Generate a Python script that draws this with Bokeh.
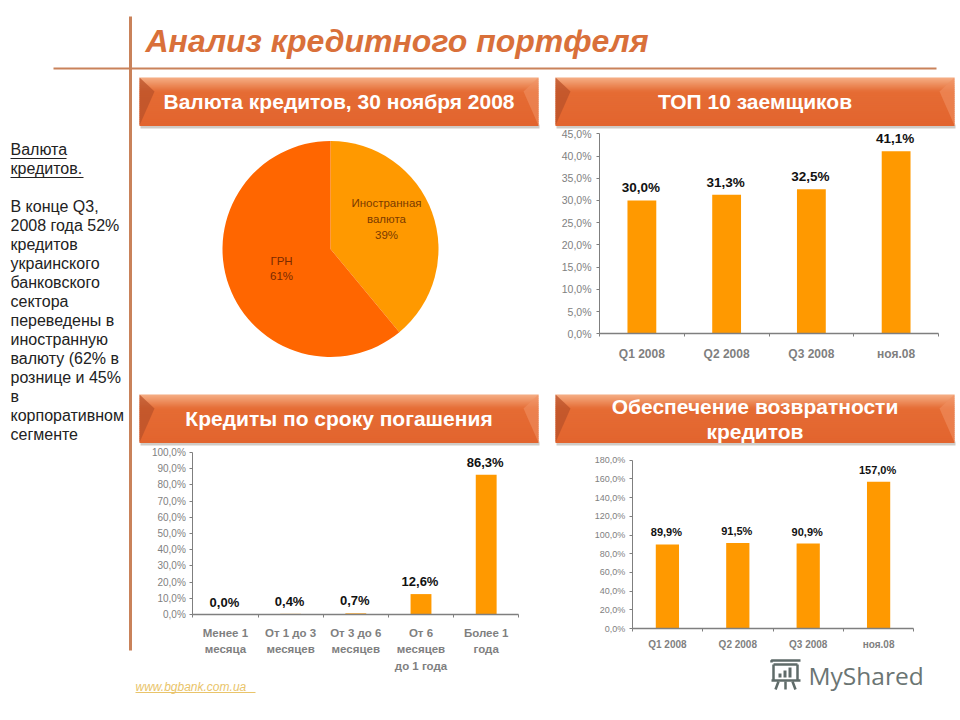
from bokeh.plotting import figure
from bokeh.embed import file_html
from bokeh.resources import INLINE
from bokeh.models import Range1d, LinearAxis, FixedTicker
from bokeh.core.properties import value
import math

# ---------- data ----------
page_title = "Анализ кредитного портфеля"
pie_labels = ["Иностранная\nвалюта\n39%", "ГРН\n61%"]
pie_values = [39, 61]
pie_colors = ["#FF9900", "#FF6600"]

top10_cats = ["Q1 2008", "Q2 2008", "Q3 2008", "ноя.08"]
top10_vals = [30.0, 31.3, 32.5, 41.1]
top10_lbls = ["30,0%", "31,3%", "32,5%", "41,1%"]
top10_ticks = [0, 5, 10, 15, 20, 25, 30, 35, 40, 45]

term_cats = ["Менее 1\nмесяца", "От 1 до 3\nмесяцев", "От 3 до 6\nмесяцев", "От 6\nмесяцев\nдо 1 года", "Более 1\nгода"]
term_vals = [0.0, 0.4, 0.7, 12.6, 86.3]
term_lbls = ["0,0%", "0,4%", "0,7%", "12,6%", "86,3%"]
term_ticks = [0, 10, 20, 30, 40, 50, 60, 70, 80, 90, 100]

cover_cats = ["Q1 2008", "Q2 2008", "Q3 2008", "ноя.08"]
cover_vals = [89.9, 91.5, 90.9, 157.0]
cover_lbls = ["89,9%", "91,5%", "90,9%", "157,0%"]
cover_ticks = [0, 20, 40, 60, 80, 100, 120, 140, 160, 180]

side_text = ["Валюта", "кредитов.", "", "В конце Q3,", "2008 года 52%", "кредитов", "украинского",
             "банковского", "сектора", "переведены в", "иностранную", "валюту (62% в",
             "рознице и 45%", "в", "корпоративном", "сегменте"]

FONT = "Liberation Sans"
ACCENT = "#C9825A"
BAR = "#FF9900"
GREY = "#7F7F7F"

X0, X1, Y0, Y1 = 0, 960, 720, 0
p = figure(width=960, height=720, output_backend="svg", toolbar_location=None,
           x_range=Range1d(X0, X1), y_range=Range1d(Y0, Y1), min_border=0,
           outline_line_color=None, background_fill_color="white", border_fill_color="white")
p.xaxis.visible = False
p.yaxis.visible = False
p.grid.visible = False


def lerp(a, b, t):
    return tuple(round(a[i] + (b[i] - a[i]) * t) for i in range(3))


def hexc(c):
    return "#%02X%02X%02X" % c


def txt(x, y, s, size, color=None, style="normal", align="left", base="middle", font=FONT, lh=None):
    kw = {}
    if lh:
        kw["text_line_height"] = lh
    p.text([x], [y], text=[s], text_font=value(font), text_font_size=f"{size}px", text_color=color,
           text_font_style=style, text_align=align, text_baseline=base, **kw)


# ---------- frame rules ----------
p.segment([53], [68], [936], [68], line_color=ACCENT, line_width=2)
p.segment([130], [16], [130], [650], line_color=ACCENT, line_width=3)
txt(145, 40, page_title, 32, "#D9703A", "bold italic")


# ---------- banners ----------
def banner(x0, x1, y0, y1, lines, size):
    p.quad(left=[x0 + 1], right=[x1 + 1], top=[y1 - 1], bottom=[y1 + 3], fill_color="#A8A098", fill_alpha=0.55, line_color=None)
    n = 24
    h = (y1 - y0) / n
    top, mid, low = (244, 170, 128), (229, 108, 52), (226, 100, 46)
    for i in range(n):
        yy = i * h
        c = lerp(top, mid, yy / 13) if yy < 13 else lerp(mid, low, (yy - 13) / (y1 - y0 - 13))
        p.quad(left=[x0], right=[x1], top=[y0 + i * h], bottom=[y0 + (i + 1) * h + .4], fill_color=hexc(c), line_color=None)
    p.patch([x0, x0 + 15, x0], [y0, y0 + 14, y1], fill_color="#B9522A", fill_alpha=0.75, line_color=None)
    p.patch([x1, x1 - 15, x1], [y0, y0 + 14, y1], fill_color="#F09060", fill_alpha=0.6, line_color=None)
    mid_x = (x0 + x1) / 2
    if len(lines) == 1:
        txt(mid_x, (y0 + y1) / 2, lines[0], size, "white", "bold", "center")
    else:
        txt(mid_x, y0 + 12, lines[0], size, "white", "bold", "center")
        txt(mid_x, y0 + 37, lines[1], size, "white", "bold", "center")


banner(139, 538, 77, 125, ["Валюта кредитов, 30 ноября 2008"], 21)
banner(555, 954, 77, 125, ["ТОП 10 заемщиков"], 21)
banner(139, 538, 394, 442, ["Кредиты по сроку погашения"], 21)
banner(555, 954, 394, 442, ["Обеспечение возвратности", "кредитов"], 21)


# ---------- pie ----------
cx, cy, r = 330, 248.5, 108
ang = math.pi / 2
total = sum(pie_values)
for v, c in zip(pie_values, pie_colors):
    end = ang - 2 * math.pi * v / total
    p.wedge([cx], [cy], radius=r, start_angle=ang, end_angle=end, direction="clock", fill_color=c, line_color=None)
    ang = end
txt(386, 196, pie_labels[0], 11.5, "#7A3A00", align="center", base="top", lh=1.37)
txt(281, 254, pie_labels[1], 11.5, "#7A2A00", align="center", base="top", lh=1.3)


# ---------- bar charts ----------
def ext_range(px0, v0, px1, v1, lo, hi):
    f = lambda px: v0 + (px - px0) * (v1 - v0) / (px1 - px0)
    return Range1d(f(lo), f(hi))


def bar_chart(name, cats, vals, lbls, ticks, x0, x1, y0, y1, tick_size, lbl_size, cat_size, standoff, lbl_off, bw, tick_off):
    n = len(cats)
    xn, yn = "x_" + name, "y_" + name
    p.extra_x_ranges[xn] = ext_range(x0, 0, x1, n, X0, X1)
    p.extra_y_ranges[yn] = ext_range(y0, 0, y1, ticks[-1], Y0, Y1)
    pos = [i + 0.5 for i in range(n)]
    p.vbar(x=pos, top=vals, bottom=0, width=bw, fill_color=BAR, line_color=None, x_range_name=xn, y_range_name=yn)
    p.text(pos, vals, text=lbls, text_font=value(FONT), text_font_size=f"{lbl_size}px", text_font_style="bold",
           text_color="#111111", text_align="center", text_baseline="bottom", y_offset=-lbl_off,
           x_offset=-1, x_range_name=xn, y_range_name=yn)
    ya = LinearAxis(x_range_name=xn, y_range_name=yn, fixed_location=0, bounds=(0, ticks[-1]),
                    ticker=FixedTicker(ticks=ticks),
                    major_label_overrides={t: f"{t},0%" for t in ticks},
                    major_label_text_font=FONT, major_label_text_font_size=f"{tick_size}px",
                    major_label_text_color=GREY, axis_line_color=GREY, major_tick_line_color=GREY,
                    major_tick_in=0, major_tick_out=3, minor_tick_out=0, minor_tick_in=0, major_label_standoff=tick_off)
    p.add_layout(ya, "left")
    xa = LinearAxis(x_range_name=xn, y_range_name=yn, fixed_location=0, bounds=(0, n),
                    ticker=FixedTicker(ticks=pos, minor_ticks=list(range(n + 1))),
                    major_label_overrides=dict(zip(pos, cats)),
                    major_label_text_font=FONT, major_label_text_font_size=f"{cat_size}px",
                    major_label_text_font_style="bold", major_label_text_color=GREY,
                    major_label_text_line_height=1.39,
                    axis_line_color=GREY, axis_line_width=1.5, major_tick_in=0, major_tick_out=0,
                    minor_tick_in=0, minor_tick_out=3, minor_tick_line_color=GREY,
                    major_label_standoff=standoff)
    p.add_layout(xa, "below")


bar_chart("top10", top10_cats, top10_vals, top10_lbls, top10_ticks, 599, 938, 333.3, 133.3, 10.5, 13.5, 12, 10, 5, 0.34, 5)
bar_chart("term", term_cats, term_vals, term_lbls, term_ticks, 192.3, 518.3, 614, 452, 10, 13, 11.5, 9, 5, 0.32, 4)
bar_chart("cover", cover_cats, cover_vals, cover_lbls, cover_ticks, 631.7, 913.3, 628, 459.7, 9, 11, 10, 7, 6, 0.33, 4)

# ---------- side text ----------
for i, line in enumerate(side_text):
    if line:
        txt(10, 149 + 19 * i, line, 16, "#222222")
p.segment([10, 10], [158, 177], [66, 83], [158, 177], line_color="#222222", line_width=1)

# ---------- footer ----------
txt(135, 686, "www.bgbank.com.ua", 12, "#E9C46A", "italic")
p.segment([135], [692], [255], [692], line_color="#E9C46A", line_width=1)

LOGO = "#5F6B69"
txt(808, 675, "MyShared", 24.5, "#6B7573", font="Open Sans")
p.multi_line([[771, 771, 800], [773, 797], [773, 773], [797, 797], [778, 775], [792, 795], [785, 785]],
             [[662, 660, 660], [664, 664], [664, 680], [664, 680], [681, 689], [681, 689], [681, 689]],
             line_color=LOGO, line_width=2.5)
p.segment([771], [680], [800], [680], line_color=LOGO, line_width=2.5)
p.quad(left=[778, 783, 788], right=[781, 786, 791], top=[673, 670, 667], bottom=[677, 677, 677], fill_color=LOGO, line_color=None)

open("out.html", "w").write(file_html(p, INLINE))
